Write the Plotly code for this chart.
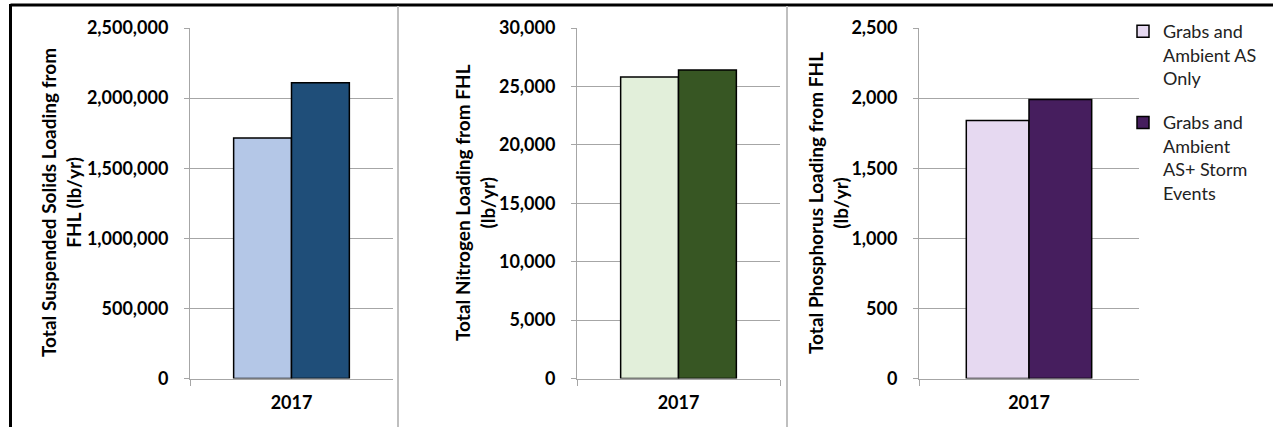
import plotly.graph_objects as go

# Annual loading from FHL, 2017, for the two sampling approaches
years = ["2017"]
series_names = ["Grabs and<br>Ambient AS<br>Only", "Grabs and<br>Ambient<br>AS+ Storm<br>Events"]

tss_load = [1715000, 2110000]      # Total Suspended Solids (lb/yr)
tn_load = [25800, 26400]           # Total Nitrogen (lb/yr)
tp_load = [1840, 1990]             # Total Phosphorus (lb/yr)

tss_ticks = [0, 500000, 1000000, 1500000, 2000000, 2500000]
tn_ticks = [0, 5000, 10000, 15000, 20000, 25000, 30000]
tp_ticks = [0, 500, 1000, 1500, 2000, 2500]

tss_title = "Total Suspended Solids Loading from<br>FHL (lb/yr)"
tn_title = "Total Nitrogen Loading from FHL<br>(lb/yr)"
tp_title = "Total Phosphorus Loading from FHL<br>(lb/yr)"

tss_colors = ["#b4c7e7", "#1f4e79"]
tn_colors = ["#e2efda", "#375623"]
tp_colors = ["#e6d9f1", "#461e5e"]

W, H = 1273, 427
FONT = "Lato"
GRID = "#a6a6a6"

panels = [
    dict(vals=tss_load, ticks=tss_ticks, title=tss_title, colors=tss_colors,
         dom=(190, 393), legend=False, tcx=61),
    dict(vals=tn_load, ticks=tn_ticks, title=tn_title, colors=tn_colors,
         dom=(577, 780), legend=False, tcx=475),
    dict(vals=tp_load, ticks=tp_ticks, title=tp_title, colors=tp_colors,
         dom=(919, 1139), legend=True, tcx=828),
]

y_dom = [1 - 378.5 / H, 1 - 28 / H]

fig = go.Figure()
layout = {}
annotations = []
for i, p in enumerate(panels):
    sfx = "" if i == 0 else str(i + 1)
    for j in range(2):
        fig.add_trace(go.Bar(
            x=years, y=[p["vals"][j]], name=series_names[j],
            marker=dict(color=p["colors"][j], line=dict(color="black", width=1.5)),
            xaxis="x" + sfx, yaxis="y" + sfx,
            showlegend=p["legend"], offsetgroup=str(j), legendgroup="g" + str(j),
        ))
    layout["xaxis" + sfx] = dict(
        domain=[p["dom"][0] / W, p["dom"][1] / W], anchor="y" + sfx,
        type="category", showline=True, linecolor=GRID, linewidth=1,
        ticks="outside", tickson="boundaries", ticklen=6, tickcolor=GRID,
        tickfont=dict(family=FONT, size=18, color="black", weight="bold"),
        ticklabelstandoff=8, automargin=False, showgrid=False, zeroline=False,
    )
    layout["yaxis" + sfx] = dict(
        domain=y_dom, anchor="x" + sfx,
        range=[0, p["ticks"][-1]], tickvals=p["ticks"], tickformat=",",
        showline=True, linecolor=GRID, linewidth=1, zeroline=False,
        showgrid=True, gridcolor=GRID, gridwidth=1,
        ticks="outside", ticklen=5, tickcolor=GRID,
        tickfont=dict(family=FONT, size=18, color="black", weight="bold"),
        ticklabelstandoff=12, automargin=False,
    )
    annotations.append(dict(
        text="<b>" + p["title"] + "</b>", textangle=-90,
        x=p["tcx"] / W, y=1 - 203 / H, xref="paper", yref="paper",
        xanchor="center", yanchor="middle", showarrow=False,
        font=dict(family=FONT, size=19, color="black"),
    ))

shapes = [
    # outer frame (top and left edges)
    dict(type="line", xref="paper", yref="paper", x0=10.5 / W, x1=1, y0=1 - 5 / H, y1=1 - 5 / H,
         line=dict(color="black", width=3)),
    dict(type="line", xref="paper", yref="paper", x0=10.5 / W, x1=10.5 / W, y0=0, y1=1 - 4 / H,
         line=dict(color="black", width=3)),
    # panel separators
    dict(type="line", xref="paper", yref="paper", x0=398 / W, x1=398 / W, y0=0, y1=1 - 6 / H,
         line=dict(color="#bfbfbf", width=2)),
    dict(type="line", xref="paper", yref="paper", x0=787 / W, x1=787 / W, y0=0, y1=1 - 6 / H,
         line=dict(color="#bfbfbf", width=2)),
]

fig.update_layout(
    template="none",
    width=W, height=H, margin=dict(l=0, r=0, t=0, b=0, autoexpand=False),
    paper_bgcolor="white", plot_bgcolor="white",
    barmode="group", bargap=0.43, bargroupgap=0,
    showlegend=True,
    legend=dict(x=1123 / W, y=1 - 13 / H, xanchor="left", yanchor="top",
                font=dict(family=FONT, size=18, color="#222222"),
                valign="top", tracegroupgap=18, bgcolor="rgba(0,0,0,0)",
                itemwidth=30, traceorder="grouped"),
    annotations=annotations, shapes=shapes,
    **layout,
)

fig.write_html("out.html")
